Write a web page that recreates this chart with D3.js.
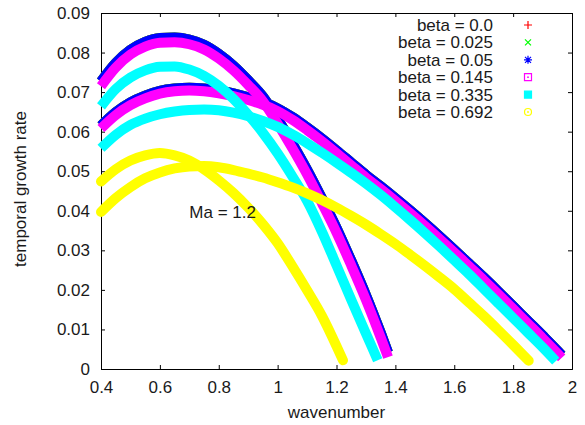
<!DOCTYPE html>
<html>
<head>
<meta charset="utf-8">
<script src="https://cdn.jsdelivr.net/npm/d3@7"></script>
<style>
body { margin: 0; background: #fff; }
svg text { font-family: "Liberation Sans", Arial, sans-serif; font-size: 17px; fill: #1a1a1a; }
</style>
</head>
<body>
<div id="chart"></div>
<script>

// plot box with the margin convention
const margin = { top: 13, right: 13, bottom: 56, left: 101 },
width = 585 - margin.left - margin.right,
height = 425 - margin.top - margin.bottom;

// legend entries, one per beta
const betaLabels = ['beta = 0.0', 'beta = 0.025', 'beta = 0.05', 'beta = 0.145', 'beta = 0.335', 'beta = 0.692'];
const betaColors = ['#ff0000', '#00ff00', '#0000ff', '#ff00ff', '#00ffff', '#ffff00'];

const xTicks = [0.4, 0.6, 0.8, 1, 1.2, 1.4, 1.6, 1.8, 2];
const yTicks = [0, 0.01, 0.02, 0.03, 0.04, 0.05, 0.06, 0.07, 0.08, 0.09];

// wavenumbers of the first (steep) branch
const kUpperA = [0.40, 0.45, 0.50, 0.55, 0.60, 0.65, 0.70, 0.75, 0.80, 0.85, 0.90, 0.95, 1.00, 1.05, 1.10, 1.15, 1.20, 1.25, 1.30, 1.35, 1.375];
const kUpperC = [0.40, 0.45, 0.50, 0.55, 0.60, 0.65, 0.70, 0.75, 0.80, 0.85, 0.90, 0.95, 1.00, 1.05, 1.10, 1.15, 1.20, 1.25, 1.30, 1.34];
const kUpperY = [0.40, 0.45, 0.50, 0.55, 0.60, 0.65, 0.70, 0.75, 0.80, 0.85, 0.90, 0.95, 1.00, 1.05, 1.10, 1.15, 1.20, 1.222];

// wavenumbers of the second (long) branch
const kLowerA = [0.40, 0.45, 0.50, 0.55, 0.60, 0.65, 0.70, 0.75, 0.80, 0.85, 0.90, 0.95, 1.00, 1.05, 1.10, 1.15, 1.20, 1.25, 1.30, 1.35, 1.40, 1.45, 1.50, 1.55, 1.60, 1.65, 1.70, 1.75, 1.80, 1.85, 1.90, 1.95, 1.965];
const kLowerC = [0.40, 0.45, 0.50, 0.55, 0.60, 0.65, 0.70, 0.75, 0.80, 0.85, 0.90, 0.95, 1.00, 1.05, 1.10, 1.15, 1.20, 1.25, 1.30, 1.35, 1.40, 1.45, 1.50, 1.55, 1.60, 1.65, 1.70, 1.75, 1.80, 1.85, 1.90, 1.945];
const kLowerY = [0.40, 0.45, 0.50, 0.55, 0.60, 0.65, 0.70, 0.75, 0.80, 0.85, 0.90, 0.95, 1.00, 1.05, 1.10, 1.15, 1.20, 1.25, 1.30, 1.35, 1.40, 1.45, 1.50, 1.55, 1.60, 1.65, 1.70, 1.75, 1.80, 1.853];

// growth rates, first branch
const upperBeta0 = [0.0727, 0.0774, 0.0807, 0.0827, 0.0837, 0.0838, 0.0833, 0.0820, 0.0797, 0.0767, 0.0730, 0.0689, 0.0632, 0.0570, 0.0504, 0.0432, 0.0357, 0.0274, 0.0187, 0.0092, 0.0042];
const upperBeta0025 = [0.0727, 0.0774, 0.0807, 0.0827, 0.0837, 0.0838, 0.0833, 0.0820, 0.0797, 0.0767, 0.0730, 0.0689, 0.0632, 0.0570, 0.0504, 0.0432, 0.0357, 0.0274, 0.0187, 0.0092, 0.0042];
const upperBeta005 = [0.0727, 0.0774, 0.0807, 0.0827, 0.0837, 0.0838, 0.0833, 0.0820, 0.0797, 0.0767, 0.0730, 0.0689, 0.0632, 0.0570, 0.0504, 0.0432, 0.0357, 0.0274, 0.0187, 0.0092, 0.0042];
const upperBeta0145 = [0.0715, 0.0762, 0.0795, 0.0815, 0.0825, 0.0826, 0.0821, 0.0808, 0.0785, 0.0755, 0.0718, 0.0677, 0.0620, 0.0558, 0.0492, 0.0420, 0.0345, 0.0262, 0.0175, 0.0080, 0.0030];
const upperBeta0335 = [0.0664, 0.0708, 0.0737, 0.0755, 0.0764, 0.0765, 0.0757, 0.0741, 0.0716, 0.0683, 0.0643, 0.0597, 0.0545, 0.0487, 0.0425, 0.0348, 0.0262, 0.0175, 0.0090, 0.0022];
const upperBeta0692 = [0.0474, 0.0505, 0.0527, 0.0540, 0.0546, 0.0540, 0.0527, 0.0505, 0.0477, 0.0445, 0.0408, 0.0366, 0.0318, 0.0260, 0.0199, 0.0135, 0.0058, 0.0022];

// growth rates, second branch
const lowerBeta0 = [0.0615, 0.0649, 0.0674, 0.0691, 0.0703, 0.0709, 0.0711, 0.0709, 0.0704, 0.0697, 0.0687, 0.0675, 0.0659, 0.0637, 0.0611, 0.0583, 0.0553, 0.0522, 0.0491, 0.0462, 0.0432, 0.0401, 0.0369, 0.0336, 0.0302, 0.0267, 0.0232, 0.0196, 0.0159, 0.0122, 0.0085, 0.0047, 0.0035];
const lowerBeta0025 = [0.0615, 0.0649, 0.0674, 0.0691, 0.0703, 0.0709, 0.0711, 0.0709, 0.0704, 0.0697, 0.0687, 0.0675, 0.0659, 0.0637, 0.0611, 0.0583, 0.0553, 0.0522, 0.0491, 0.0462, 0.0432, 0.0401, 0.0369, 0.0336, 0.0302, 0.0267, 0.0232, 0.0196, 0.0159, 0.0122, 0.0085, 0.0047, 0.0035];
const lowerBeta005 = [0.0615, 0.0649, 0.0674, 0.0691, 0.0703, 0.0709, 0.0711, 0.0709, 0.0704, 0.0697, 0.0687, 0.0675, 0.0659, 0.0637, 0.0611, 0.0583, 0.0553, 0.0522, 0.0491, 0.0462, 0.0432, 0.0401, 0.0369, 0.0336, 0.0302, 0.0267, 0.0232, 0.0196, 0.0159, 0.0122, 0.0085, 0.0047, 0.0035];
const lowerBeta0145 = [0.0608, 0.0642, 0.0667, 0.0684, 0.0696, 0.0702, 0.0704, 0.0702, 0.0697, 0.0690, 0.0680, 0.0668, 0.0652, 0.0630, 0.0604, 0.0576, 0.0546, 0.0515, 0.0484, 0.0455, 0.0425, 0.0394, 0.0362, 0.0329, 0.0295, 0.0260, 0.0225, 0.0189, 0.0152, 0.0115, 0.0078, 0.0040, 0.0028];
const lowerBeta0335 = [0.0558, 0.0592, 0.0617, 0.0633, 0.0644, 0.0651, 0.0655, 0.0656, 0.0654, 0.0648, 0.0639, 0.0627, 0.0612, 0.0593, 0.0571, 0.0547, 0.0522, 0.0496, 0.0469, 0.0440, 0.0409, 0.0377, 0.0344, 0.0310, 0.0275, 0.0240, 0.0203, 0.0166, 0.0129, 0.0092, 0.0055, 0.0020];
const lowerBeta0692 = [0.0397, 0.0432, 0.0460, 0.0482, 0.0497, 0.0507, 0.0512, 0.0513, 0.0510, 0.0503, 0.0494, 0.0484, 0.0472, 0.0459, 0.0444, 0.0427, 0.0408, 0.0387, 0.0365, 0.0341, 0.0316, 0.0289, 0.0261, 0.0232, 0.0202, 0.0168, 0.0134, 0.0098, 0.0061, 0.0021];

// pair up wavenumbers and rates, drawn in the order gnuplot plots them
const curves = [
    { beta: 0, k: kUpperA, rate: upperBeta0 },
    { beta: 0, k: kLowerA, rate: lowerBeta0 },
    { beta: 1, k: kUpperA, rate: upperBeta0025 },
    { beta: 1, k: kLowerA, rate: lowerBeta0025 },
    { beta: 2, k: kUpperA, rate: upperBeta005 },
    { beta: 2, k: kLowerA, rate: lowerBeta005 },
    { beta: 3, k: kUpperA, rate: upperBeta0145 },
    { beta: 3, k: kLowerA, rate: lowerBeta0145 },
    { beta: 4, k: kUpperC, rate: upperBeta0335 },
    { beta: 4, k: kLowerC, rate: lowerBeta0335 },
    { beta: 5, k: kUpperY, rate: upperBeta0692 },
    { beta: 5, k: kLowerY, rate: lowerBeta0692 }
];

const svg = d3.select('#chart')
    .append('svg')
    .attr('width', width + margin.left + margin.right)
    .attr('height', height + margin.top + margin.bottom);

const group = svg
    .append('g')
    .attr('transform', `translate(${margin.left} ${margin.top})`);

const x = d3.scaleLinear().domain([0.4, 2]).range([0, width]);
const y = d3.scaleLinear().domain([0, 0.09]).range([height, 0]);

// AXES
// gnuplot style: ticks point inwards, mirrored on top and right
const fmt = d3.format('~g');
const tick = 4;

group.append('g')
    .attr('class', 'axis')
    .attr('transform', `translate(0 ${height})`)
    .call(d3.axisBottom(x).tickValues(xTicks).tickFormat(fmt).tickSize(-tick).tickPadding(12));

group.append('g')
    .attr('class', 'axis')
    .call(d3.axisLeft(y).tickValues(yTicks).tickFormat(fmt).tickSize(-tick).tickPadding(11));

group.append('g')
    .attr('class', 'axis')
    .call(d3.axisTop(x).tickValues(xTicks).tickFormat('').tickSize(-tick));

group.append('g')
    .attr('class', 'axis')
    .attr('transform', `translate(${width} 0)`)
    .call(d3.axisRight(y).tickValues(yTicks).tickFormat('').tickSize(-tick));

group.selectAll('.axis path, .axis line')
    .attr('stroke', '#000')
    .attr('stroke-width', 1);

group.selectAll('.axis text')
    .attr('fill', '#1a1a1a')
    .style('font-size', '17px')
    .style('font-family', '"Liberation Sans", Arial, sans-serif');

// axis titles
group.append('text')
    .attr('x', width / 2)
    .attr('y', height + 49)
    .attr('text-anchor', 'middle')
    .text('wavenumber');

group.append('text')
    .attr('transform', `translate(${-75} ${height / 2 - 2}) rotate(-90)`)
    .attr('text-anchor', 'middle')
    .text('temporal growth rate');

// CURVES
// thick bands standing in for the densely packed gnuplot point markers
const line = d3.line()
    .x(d => x(d[0]))
    .y(d => y(d[1]))
    .curve(d3.curveMonotoneX);

group.append('g')
    .selectAll('path')
    .data(curves)
    .enter()
    .append('path')
    .attr('d', d => line(d.k.map((k, i) => [k, d.rate[i]])))
    .attr('fill', 'none')
    .attr('stroke', d => betaColors[d.beta])
    .attr('stroke-width', 10)
    .attr('stroke-linecap', d => d.beta === 5 ? 'round' : 'butt')
    .attr('stroke-linejoin', 'round');

// annotation
group.append('text')
    .attr('x', x(0.7))
    .attr('y', y(0.0397) + 6)
    .text('Ma = 1.2');

// LEGEND
const legend = group.append('g')
    .attr('transform', `translate(${392} ${12})`);

const rows = legend.selectAll('g')
    .data(betaLabels)
    .enter()
    .append('g')
    .attr('transform', (d, i) => `translate(0 ${i * 17.4})`);

rows.append('text')
    .attr('x', 0)
    .attr('y', 6)
    .attr('text-anchor', 'end')
    .text(d => d);

// point type markers: + x * box-dot filled-box circle-dot
const markerPaths = [
    'M-4,0H4M0,-4V4',
    'M-3,-3L3,3M-3,3L3,-3',
    'M-4,0H4M0,-4V4M-3,-3L3,3M-3,3L3,-3',
    'M-3.5,-3.5H3.5V3.5H-3.5Z',
    'M-3.5,-3.5H3.5V3.5H-3.5Z',
    'M-3.5,0A3.5,3.5 0 1,0 3.5,0A3.5,3.5 0 1,0 -3.5,0'
];

rows.append('path')
    .attr('transform', `translate(${35} 0)`)
    .attr('d', (d, i) => markerPaths[i])
    .attr('fill', (d, i) => i === 4 ? betaColors[i] : 'none')
    .attr('stroke', (d, i) => betaColors[i])
    .attr('stroke-width', 1.2);

// centre dots of the open markers
rows.filter((d, i) => i === 3 || i === 5)
    .append('circle')
    .attr('cx', 35)
    .attr('cy', 0)
    .attr('r', 0.9)
    .attr('fill', (d, i) => i === 0 ? betaColors[3] : betaColors[5]);

</script>
</body>
</html>
